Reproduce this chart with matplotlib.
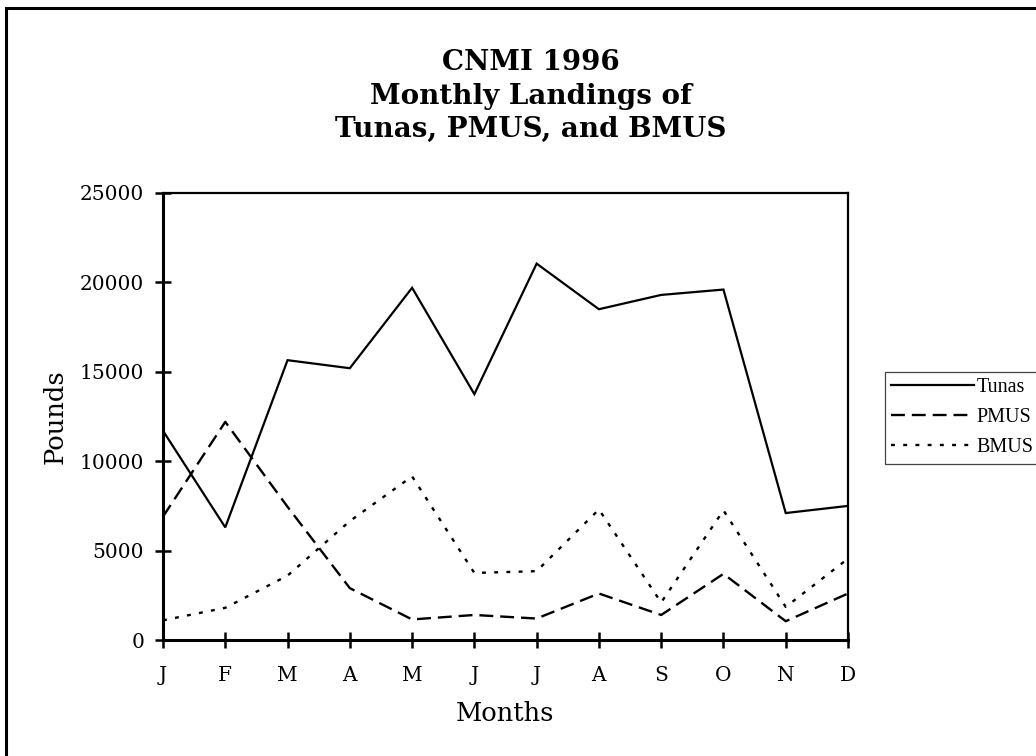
import numpy as np
import matplotlib
matplotlib.use('Agg')
import matplotlib.pyplot as plt
from matplotlib.patches import Rectangle

# Monthly landings (pounds)
months = ['J', 'F', 'M', 'A', 'M', 'J', 'J', 'A', 'S', 'O', 'N', 'D']
tunas = [11700, 6300, 15650, 15200, 19700, 13750, 21050, 18500, 19300, 19600, 7100, 7500]
pmus = [6900, 12200, 7450, 2900, 1150, 1400, 1200, 2600, 1400, 3700, 1050, 2600]
bmus = [1100, 1800, 3600, 6650, 9150, 3750, 3850, 7300, 2100, 7250, 1850, 4550]
y_ticks = [0, 5000, 10000, 15000, 20000, 25000]

W, H = 1036, 756
plt.rcParams['lines.scale_dashes'] = False
plt.rcParams['font.family'] = 'DejaVu Serif'

fig = plt.figure(figsize=(W / 100, H / 100), dpi=100)
ax = fig.add_axes([163 / W, 1 - 640 / H, (848 - 163) / W, (640 - 193) / H])

x = np.arange(len(months))
l_tunas, = ax.plot(x, tunas, color='black', lw=1.6, solid_joinstyle='miter', label='Tunas')
l_pmus, = ax.plot(x, pmus, color='black', lw=1.7, dashes=(10, 5), label='PMUS')
l_bmus, = ax.plot(x, bmus, color='black', lw=1.7, dashes=(2.8, 6), label='BMUS')

ax.set_xlim(0, len(months) - 1)
ax.set_ylim(0, 25000)
ax.set_xticks(x)
ax.set_xticklabels(months)
ax.set_yticks(y_ticks)
ax.set_yticklabels([str(v) for v in y_ticks])
ax.tick_params(direction='inout', length=11, width=1.8, labelsize=14.5)
ax.tick_params(axis='y', pad=8)
ax.tick_params(axis='x', pad=13)
for side in ['left', 'bottom']:
    ax.spines[side].set_linewidth(2.2)
for side in ['top', 'right']:
    ax.spines[side].set_linewidth(1.6)

ax.set_xlabel('Months', fontsize=18.5, labelpad=12)
ax.set_ylabel('Pounds', fontsize=18.5, labelpad=9)

fig.text(531 / W, 1 - 96 / H, 'CNMI 1996\nMonthly Landings of\nTunas, PMUS, and BMUS',
         ha='center', va='center', fontsize=20, fontweight='bold',
         linespacing=1.32)

leg = fig.legend(handles=[l_tunas, l_pmus, l_bmus],
                 loc='upper left', bbox_to_anchor=(885 / W, 1 - 372 / H),
                 bbox_transform=fig.transFigure,
                 prop={'family': 'Liberation Serif', 'size': 14.5},
                 frameon=False,
                 handlelength=4.1, handletextpad=0.15, labelspacing=0.55,
                 borderpad=0.3, borderaxespad=0)

# legend frame runs past the right edge of the picture
fig.add_artist(Rectangle((885 / W, 1 - 464 / H), 0.3, 92 / H,
                         transform=fig.transFigure, fill=False,
                         edgecolor='#444444', lw=0.9, clip_on=False))

# outer border of the chart area
fig.add_artist(Rectangle((6 / W, -0.1), 1.2, 1 - 8 / H + 0.1,
                         transform=fig.transFigure, fill=False,
                         edgecolor='black', lw=2.2, clip_on=False))

fig.savefig('out.png', dpi=100)
